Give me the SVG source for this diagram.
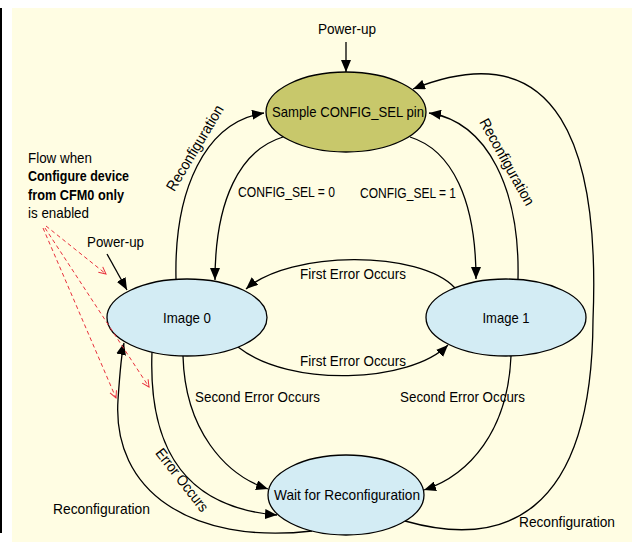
<svg xmlns="http://www.w3.org/2000/svg" width="632" height="542" viewBox="0 0 632 542">
<style>
text{font-family:"Liberation Sans",Arial,sans-serif;font-size:15px;fill:#000}
.b{font-weight:bold}
.m{text-anchor:middle}
.node{stroke:#000;stroke-width:1.3}
.c path{fill:none;stroke:#000;stroke-width:1.3;marker-end:url(#ah)}
.r{fill:none;stroke:#e8303c;stroke-width:1;stroke-dasharray:4,3;marker-end:url(#ra)}
</style>
<defs>
<marker id="ah" viewBox="0 0 12 10" refX="12" refY="5" markerWidth="12" markerHeight="10" markerUnits="userSpaceOnUse" orient="auto"><path d="M0,0 L12,5 L0,10 z" fill="#000"/></marker>
<marker id="ra" viewBox="0 0 10 10" refX="9" refY="5" markerWidth="10" markerHeight="10" markerUnits="userSpaceOnUse" orient="auto"><path d="M2,1.5 L9,5 L2,8.5" fill="none" stroke="#e8303c" stroke-width="1"/></marker>
</defs>
<rect x="0" y="0" width="632" height="542" fill="#fff"/>
<rect x="12" y="8" width="620" height="534" fill="#fffde3"/>
<rect x="0" y="8" width="2" height="525" fill="#000"/>

<g id="connectors" class="c">
<path d="M346,42 L346,72"/>
<path d="M107,254 L127,290"/>
<path d="M176,279 C174,190 205,122 264,113"/>
<path d="M283,137 C240,150 215,200 215,280"/>
<path d="M410,137 C452,150 476,200 476,279"/>
<path d="M518,279 C520,190 488,122 429,113"/>
<path d="M405,521 C500,548 592,520 593,320 C600,150 560,30 413,89"/>
<path d="M455,288 C420,250 290,250 246,289"/>
<path d="M238,347 C290,388 410,383 448,345"/>
<path d="M183,356 C185,430 225,475 268,489"/>
<path d="M511,356 C508,430 470,475 424,490"/>
<path d="M152,352 C148,455 190,508 277,515"/>
<path d="M312,531 C190,545 112,490 118,400 C120,370 121,355 124,343"/>
</g>

<g id="node-sample">
<ellipse class="node" cx="346" cy="112" rx="80" ry="40" fill="#c8c86b"/>
<text class="m" x="348" y="117" textLength="152" lengthAdjust="spacingAndGlyphs">Sample CONFIG_SEL pin</text>
</g>
<g id="node-image0">
<ellipse class="node" cx="187" cy="317.5" rx="80" ry="38.5" fill="#d3ecf4"/>
<text class="m" x="187" y="323" textLength="48" lengthAdjust="spacingAndGlyphs">Image 0</text>
</g>
<g id="node-image1">
<ellipse class="node" cx="506" cy="317.5" rx="80" ry="38.5" fill="#d3ecf4"/>
<text class="m" x="506" y="323" textLength="47" lengthAdjust="spacingAndGlyphs">Image 1</text>
</g>
<g id="node-wait">
<ellipse class="node" cx="346" cy="495" rx="78" ry="40" fill="#d3ecf4"/>
<text class="m" x="347" y="500" textLength="146" lengthAdjust="spacingAndGlyphs">Wait for Reconfiguration</text>
</g>

<g id="red-flow">
<path class="r" d="M46,226 L106,274"/>
<path class="r" d="M45,228 L149,387"/>
<path class="r" d="M43,228 L116,398"/>
</g>

<g id="labels">
<text class="m" x="347" y="34" textLength="58" lengthAdjust="spacingAndGlyphs">Power-up</text>
<text x="87" y="247" textLength="57" lengthAdjust="spacingAndGlyphs">Power-up</text>
<text x="28" y="163" textLength="64" lengthAdjust="spacingAndGlyphs">Flow when</text>
<text class="b" x="28" y="181" textLength="101" lengthAdjust="spacingAndGlyphs">Configure device</text>
<text class="b" x="28" y="200" textLength="96" lengthAdjust="spacingAndGlyphs">from CFM0 only</text>
<text x="28" y="218" textLength="61" lengthAdjust="spacingAndGlyphs">is enabled</text>
<text x="238" y="197" textLength="97" lengthAdjust="spacingAndGlyphs">CONFIG_SEL = 0</text>
<text x="360" y="198" textLength="96" lengthAdjust="spacingAndGlyphs">CONFIG_SEL = 1</text>
<text x="300" y="279" textLength="106" lengthAdjust="spacingAndGlyphs">First Error Occurs</text>
<text x="300" y="366" textLength="106" lengthAdjust="spacingAndGlyphs">First Error Occurs</text>
<text x="195" y="402" textLength="125" lengthAdjust="spacingAndGlyphs">Second Error Occurs</text>
<text x="400" y="402" textLength="125" lengthAdjust="spacingAndGlyphs">Second Error Occurs</text>
<text x="53" y="514" textLength="97" lengthAdjust="spacingAndGlyphs">Reconfiguration</text>
<text x="519" y="527" textLength="96" lengthAdjust="spacingAndGlyphs">Reconfiguration</text>
<text class="m" transform="translate(195,148) rotate(-59)" x="0" y="5" textLength="97" lengthAdjust="spacingAndGlyphs">Reconfiguration</text>
<text class="m" transform="translate(507,162) rotate(61)" x="0" y="5" textLength="97" lengthAdjust="spacingAndGlyphs">Reconfiguration</text>
<text class="m" transform="translate(182,480) rotate(52)" x="0" y="5" textLength="76" lengthAdjust="spacingAndGlyphs">Error Occurs</text>
</g>
</svg>
